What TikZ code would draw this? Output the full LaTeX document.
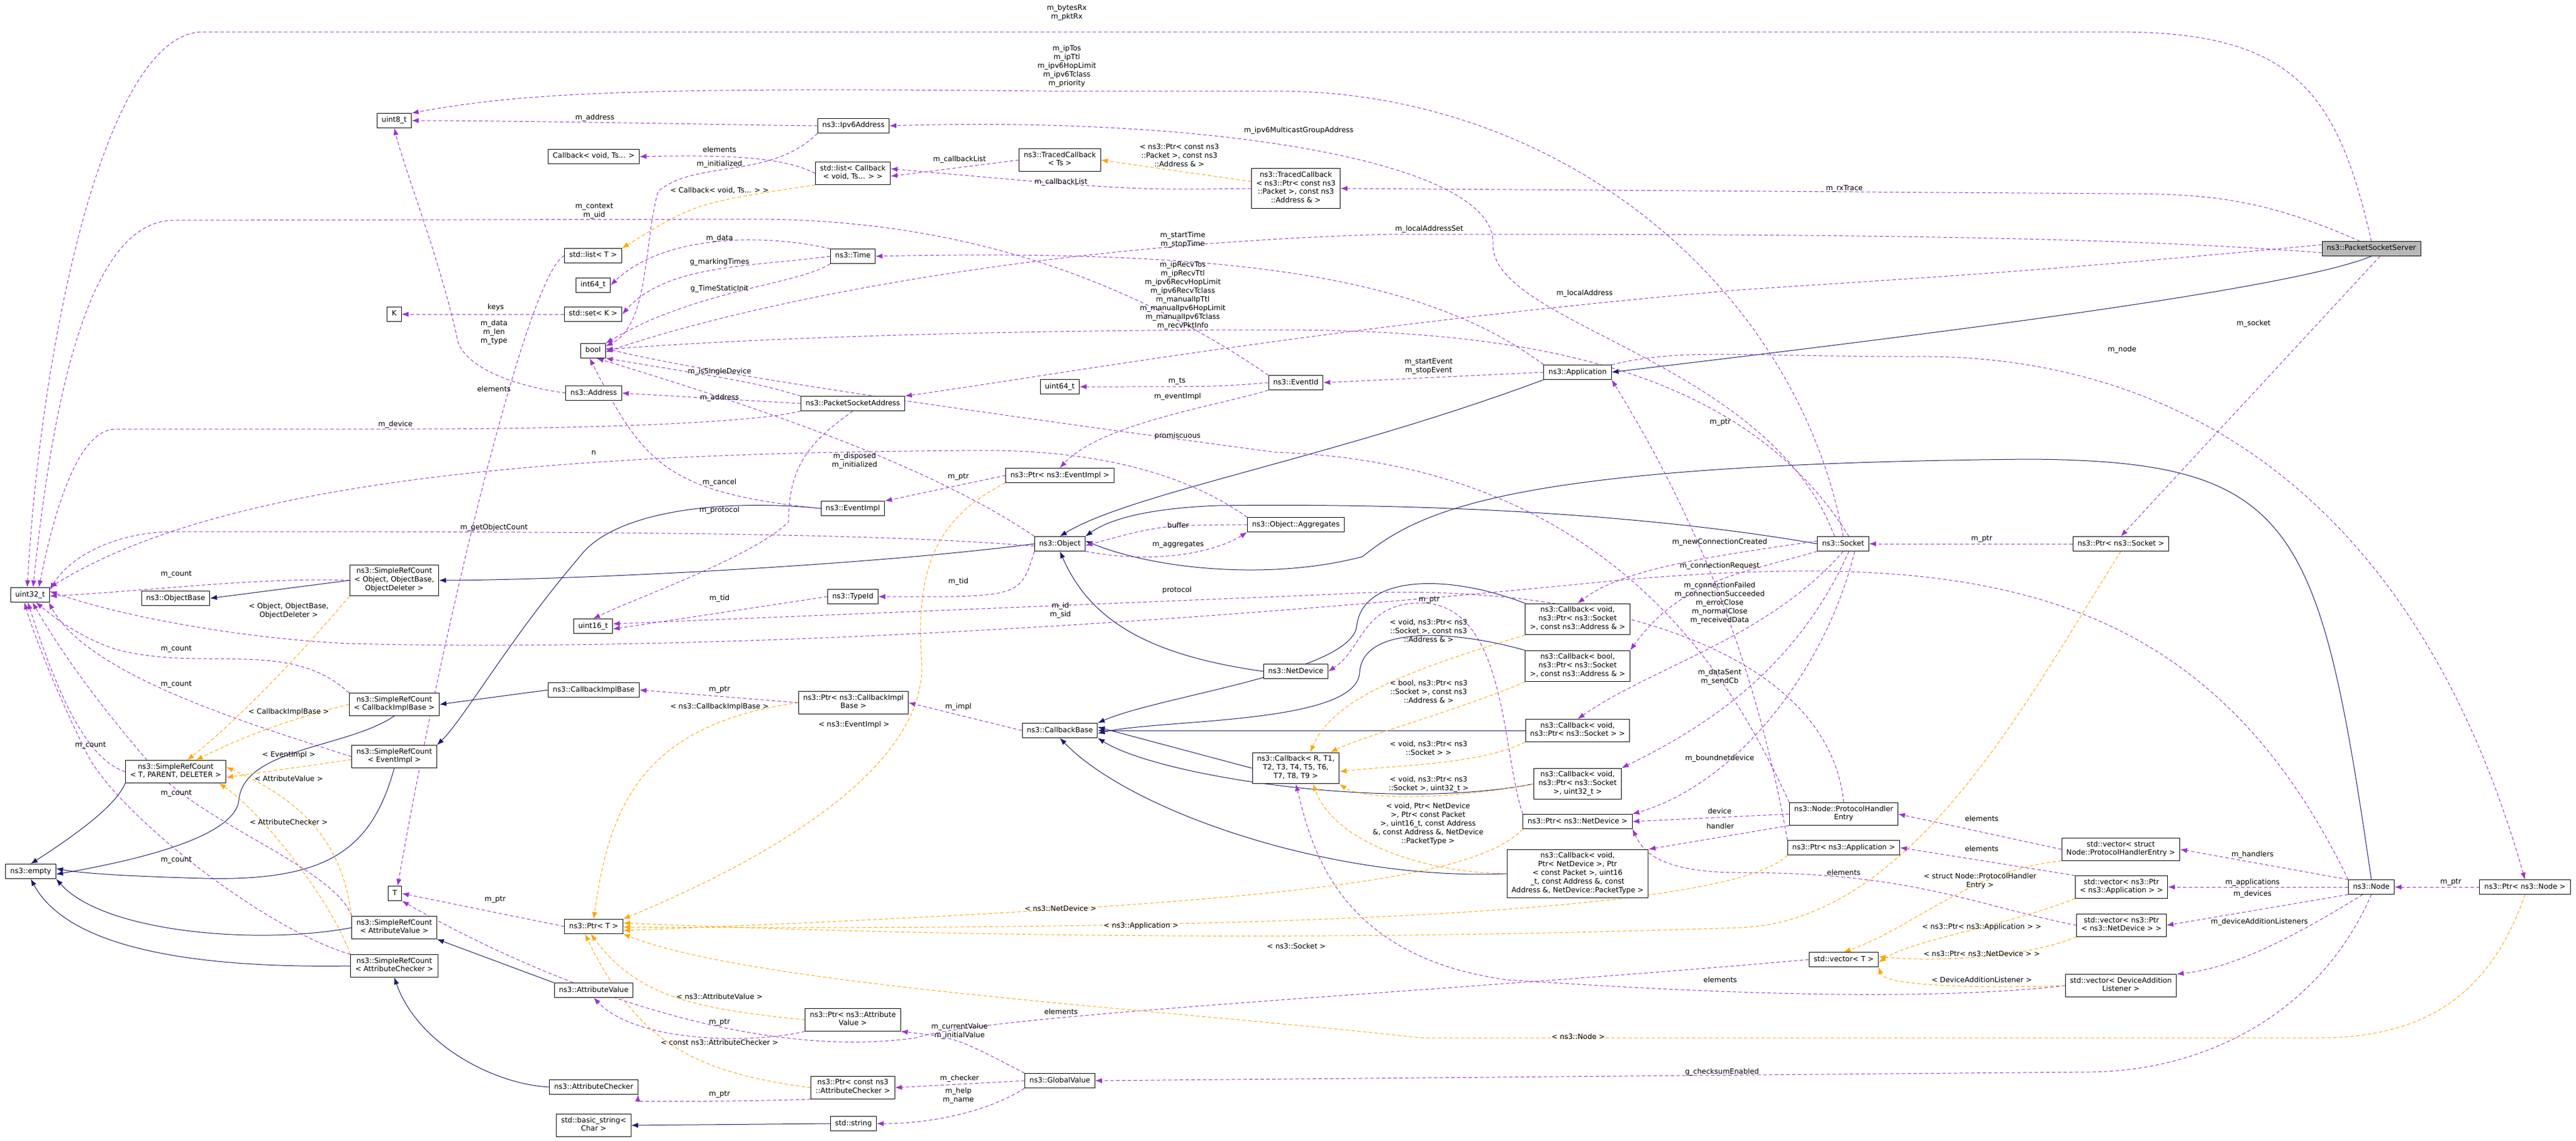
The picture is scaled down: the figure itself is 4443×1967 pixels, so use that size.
\documentclass[tikz,border=0pt]{standalone}
\usepackage{fontspec}
\usetikzlibrary{arrows.meta,backgrounds}
\newfontfamily\dvfont{DejaVu Sans}
\newcommand\lblf{\dvfont\fontsize{12.5}{15}\selectfont}
\definecolor{usec}{RGB}{154,50,205}
\definecolor{tplc}{RGB}{255,165,0}
\definecolor{inhc}{RGB}{25,25,112}
\tikzset{
 box/.style={draw=black, fill=white, line width=1, font=\lblf, align=center, inner xsep=8, inner ysep=5, execute at begin node=\strut, execute at end node=\strut},
 two/.style={}, three/.style={}, four/.style={}, five/.style={},
 lab/.style={font=\lblf, align=center, inner sep=0},
 use/.style={draw=usec, line width=1, dash pattern=on 6 off 4, -{Latex[length=12,width=9]}},
 tpl/.style={draw=tplc, line width=1, dash pattern=on 6 off 4, -{Latex[length=12,width=9]}},
 inh/.style={draw=inhc, line width=1, -{Latex[length=12,width=9]}}
}
\begin{document}
\begin{tikzpicture}[x=1bp,y=-1bp]
\useasboundingbox (0,0) rectangle (4443,1967);
% nodes
\node[box, fill=black!28] (psserver) at (4090,429) {ns3::PacketSocketServer};
\node[box] (app) at (2721,642) {ns3::Application};
\node[box] (object) at (1828,938) {ns3::Object};
\node[box] (objbase) at (303,1032) {ns3::ObjectBase};
\node[box,three] (srcobj) at (680,1001) {ns3::SimpleRefCount\\< Object, ObjectBase,\\ObjectDeleter >};
\node[box,two] (srct) at (303,1331) {ns3::SimpleRefCount\\< T, PARENT, DELETER >};
\node[box,two] (srccib) at (680,1215) {ns3::SimpleRefCount\\< CallbackImplBase >};
\node[box,two] (srcev) at (680,1305) {ns3::SimpleRefCount\\< EventImpl >};
\node[box,two] (srcav) at (680,1600) {ns3::SimpleRefCount\\< AttributeValue >};
\node[box,two] (srcac) at (680,1666) {ns3::SimpleRefCount\\< AttributeChecker >};
\node[box] (empty) at (53,1503) {ns3::empty};
\node[box] (u8) at (680,208) {uint8\_t};
\node[box] (u16) at (1023,1080) {uint16\_t};
\node[box] (u32) at (52,1026) {uint32\_t};
\node[box] (u64) at (1828,667) {uint64\_t};
\node[box] (i64) at (1023,492) {int64\_t};
\node[box] (boolb) at (1023,605) {bool};
\node[box] (K) at (680,542) {K};
\node[box] (setK) at (1023,542) {std::set< K >};
\node[box] (listT) at (1023,441) {std::list< T >};
\node[box] (cbvoidts) at (1024,270) {Callback< void, Ts... >};
\node[box,two] (listcb) at (1471,299) {std::list< Callback\\< void, Ts... > >};
\node[box,two] (tcts) at (1828,276) {ns3::TracedCallback\\< Ts >};
\node[box,four] (tcpkt) at (2235,325) {ns3::TracedCallback\\< ns3::Ptr< const ns3\\::Packet >, const ns3\\::Address \& >};
\node[box] (ipv6) at (1472,217) {ns3::Ipv6Address};
\node[box] (time) at (1471,442) {ns3::Time};
\node[box] (addr) at (1024,678) {ns3::Address};
\node[box] (psa) at (1471,696) {ns3::PacketSocketAddress};
\node[box] (evid) at (2235,660) {ns3::EventId};
\node[box] (evimpl) at (1471,877) {ns3::EventImpl};
\node[box] (ptrev) at (1828,820) {ns3::Ptr< ns3::EventImpl >};
\node[box] (typeid) at (1471,1029) {ns3::TypeId};
\node[box] (aggr) at (2235,905) {ns3::Object::Aggregates};
\node[box] (socket) at (3179,938) {ns3::Socket};
\node[box] (netdev) at (2235,1158) {ns3::NetDevice};
\node[box,three] (cbaddr) at (2721,1068) {ns3::Callback< void,\\ns3::Ptr< ns3::Socket\\>, const ns3::Address \& >};
\node[box,three] (cbbool) at (2721,1149) {ns3::Callback< bool,\\ns3::Ptr< ns3::Socket\\>, const ns3::Address \& >};
\node[box,two] (cbsock) at (2721,1260) {ns3::Callback< void,\\ns3::Ptr< ns3::Socket > >};
\node[box,three] (cbr) at (2235,1325) {ns3::Callback< R, T1,\\T2, T3, T4, T5, T6,\\T7, T8, T9 >};
\node[box,three] (cbu32) at (2721,1352) {ns3::Callback< void,\\ns3::Ptr< ns3::Socket\\>, uint32\_t >};
\node[box] (ptrnd) at (2721,1417) {ns3::Ptr< ns3::NetDevice >};
\node[box,five] (cbnd) at (2721,1507) {ns3::Callback< void,\\Ptr< NetDevice >, Ptr\\< const Packet >, uint16\\\_t, const Address \&, const\\Address \&, NetDevice::PacketType >};
\node[box,two] (phe) at (3180,1404) {ns3::Node::ProtocolHandler\\Entry};
\node[box] (ptrapp) at (3180,1462) {ns3::Ptr< ns3::Application >};
\node[box] (vecT) at (3180,1655) {std::vector< T >};
\node[box] (ptrsock) at (3658,938) {ns3::Ptr< ns3::Socket >};
\node[box,two] (vphe) at (3658,1465) {std::vector< struct\\Node::ProtocolHandlerEntry >};
\node[box,two] (vapp) at (3659,1530) {std::vector< ns3::Ptr\\< ns3::Application > >};
\node[box,two] (vnd) at (3659,1596) {std::vector< ns3::Ptr\\< ns3::NetDevice > >};
\node[box,two] (vdal) at (3658,1700) {std::vector< DeviceAddition\\Listener >};
\node[box] (node) at (4090,1530) {ns3::Node};
\node[box] (ptrnode) at (4355,1530) {ns3::Ptr< ns3::Node >};
\node[box] (cbase) at (1828,1260) {ns3::CallbackBase};
\node[box,two] (ptrcib) at (1472,1212) {ns3::Ptr< ns3::CallbackImpl\\Base >};
\node[box] (cib) at (1024,1190) {ns3::CallbackImplBase};
\node[box] (T) at (681,1541) {T};
\node[box] (ptrT) at (1024,1598) {ns3::Ptr< T >};
\node[box] (av) at (1024,1708) {ns3::AttributeValue};
\node[box] (ac) at (1024,1875) {ns3::AttributeChecker};
\node[box,two] (ptrav) at (1471,1759) {ns3::Ptr< ns3::Attribute\\Value >};
\node[box] (gv) at (1828,1864) {ns3::GlobalValue};
\node[box,two] (ptrac) at (1471,1876) {ns3::Ptr< const ns3\\::AttributeChecker >};
\node[box] (stdstr) at (1472,1938) {std::string};
\node[box,two] (bstr) at (1024,1941) {std::basic\_string<\\Char >};

\begin{scope}[on background layer]
\fill[white] (0,0) rectangle (4443,1967);
% ---------- inheritance
\draw[inh] (psserver.south) .. controls (3950,500) and (3300,580) .. (app.east);
\draw[inh] (app.south west) .. controls (2300,790) and (1950,850) .. (object.north);
\draw[inh] (socket.west) .. controls (2800,880) and (2400,868) .. (2100,872) .. controls (1950,878) and (1900,905) .. (object.north east);
\draw[inh] (node.north) .. controls (4000,900) and (3960,795) .. (3500,792) .. controls (2600,800) and (2450,880) .. (2350,960) .. controls (2200,1000) and (2000,985) .. ([yshift=5]object.east);
\draw[inh] (netdev.west) .. controls (1980,1130) and (1880,1070) .. (object.south);
\draw[inh] (object.west) .. controls (1500,975) and (1000,1000) .. (srcobj.east);
\draw[inh] (srcobj.west) -- (objbase.east);
\draw[inh] (cib.west) -- (srccib.east);
\draw[inh] (srccib.south) .. controls (600,1290) and (420,1290) .. (412,1380) .. controls (405,1450) and (200,1490) .. ([yshift=-5]empty.east);
\draw[inh] (evimpl.west) .. controls (1250,860) and (1060,880) .. (1000,960) .. controls (880,1100) and (800,1240) .. (srcev.north east);
\draw[inh] (srcev.south) .. controls (640,1470) and (560,1520) .. (350,1515) .. controls (250,1512) and (150,1508) .. ([yshift=5]empty.east);
\draw[inh] (srct.south west) .. controls (200,1390) and (130,1440) .. (empty.north);
\draw[inh] (srcav.west) .. controls (450,1630) and (180,1610) .. (empty.south east);
\draw[inh] (srcac.west) .. controls (350,1670) and (120,1640) .. (empty.south);
\draw[inh] (av.north west) -- (srcav.south east);
\draw[inh] (ac.west) .. controls (850,1870) and (720,1800) .. (srcac.south);
\draw[inh] (stdstr.west) -- (bstr.east);
\draw[inh] (cbaddr.north west) .. controls (2500,990) and (2350,990) .. (2340,1080) .. controls (2330,1160) and (2000,1200) .. (cbase.north east);
\draw[inh] (cbbool.north west) .. controls (2500,1085) and (2350,1080) .. (2345,1160) .. controls (2340,1250) and (2000,1240) .. ([yshift=-5]cbase.east);
\draw[inh] (cbsock.west) -- (cbase.east);
\draw[inh] (cbr.west) -- ([yshift=6]cbase.east);
\draw[inh] (cbu32.west) .. controls (2400,1400) and (2000,1340) .. (cbase.south east);
\draw[inh] (cbnd.west) .. controls (2300,1520) and (1950,1400) .. (cbase.south);

% ---------- usage
\draw[use] (psserver.north) .. controls (4030,150) and (3950,55) .. (3650,55) -- (350,55) .. controls (180,55) and (70,600) .. ([xshift=-5]u32.north);
\draw[use] (socket.north) .. controls (3100,500) and (2700,157) .. (2200,157) -- (1800,157) .. controls (1100,150) and (900,160) .. (u8.north east);
\draw[use] (ipv6.west) .. controls (1300,216) and (900,208) .. (u8.east);
\draw[use] ([xshift=-15]socket.north) .. controls (3050,620) and (2570,560) .. (2575,420) .. controls (2580,280) and (2100,200) .. (ipv6.east);
\draw[use] (listcb.west) .. controls (1350,270) and (1250,267) .. (cbvoidts.east);
\draw[use] (ipv6.south west) .. controls (1330,310) and (1200,275) .. (1135,330) .. controls (1110,420) and (1120,560) .. ([yshift=-5]boolb.north east);
\draw[use] (tcts.west) -- ([yshift=-5]listcb.east);
\draw[use] (tcpkt.west) .. controls (1950,328) .. ([yshift=8]listcb.east);
\draw[use] ([xshift=-20]psserver.north) .. controls (3900,340) and (3800,334) .. (3650,334) -- (tcpkt.east);
\draw[use] (evid.north west) .. controls (1900,450) and (1600,378) .. (1300,378) -- (300,380) .. controls (150,380) and (90,700) .. ([xshift=5]u32.north);
\draw[use] (time.north west) .. controls (1330,405) and (1150,400) .. (i64.east);
\draw[use] (time.west) .. controls (1300,460) and (1150,455) .. (setK.east);
\draw[use] (time.south west) .. controls (1380,490) and (1200,500) .. (boolb.north east);
\draw[use] (setK.west) -- (K.east);
\draw[use] (addr.west) .. controls (850,660) and (800,620) .. (790,590) .. controls (760,450) and (700,300) .. (u8.south);
\draw[use] (listT.west) .. controls (910,470) and (760,1100) .. ([xshift=5]T.north);
\draw[use] (app.north west) .. controls (2450,470) and (2100,430) .. (time.east);
\draw[use] ([yshift=-7]psserver.west) .. controls (3600,404) and (3000,404) .. (2400,404) .. controls (1800,420) and (1300,520) .. ([yshift=-2]boolb.east);
\draw[use] ([xshift=10]socket.north) .. controls (3000,620) and (2600,569) .. (2200,569) .. controls (1600,569) and (1200,590) .. ([yshift=2]boolb.east);
\draw[use] ([yshift=7]psserver.west) .. controls (3500,470) and (3300,480) .. (3000,500) .. controls (2300,560) and (1800,650) .. (psa.north east);
\draw[use] (evid.west) .. controls (2100,667) .. (u64.east);
\draw[use] (evid.south west) .. controls (2100,700) and (1900,730) .. (ptrev.north);
\draw[use] (app.west) -- (evid.east);
\draw[use] (psa.west) -- (addr.east);
\draw[use] (psa.north west) .. controls (1300,660) .. (boolb.south east);
\draw[use] (psa.south west) .. controls (1300,730) and (1000,740) .. (700,740) -- (200,740) .. controls (130,740) and (90,900) .. ([xshift=15]u32.north);
\draw[use] (psa.south) .. controls (1400,760) and (1360,800) .. (1360,900) .. controls (1300,960) and (1100,1030) .. (u16.north);
\draw[use] (aggr.north west) .. controls (2050,820) and (1900,777) .. (1700,777) .. controls (1000,780) and (400,820) .. (u32.north east);
\draw[use] (object.north west) .. controls (1600,800) and (1300,700) .. ([xshift=6]boolb.south);
\draw[use] (evimpl.west) .. controls (1150,850) and (1110,800) .. ([xshift=-6]boolb.south);
\draw[use] (ptrev.west) -- (evimpl.north east);
\draw[use] ([yshift=-4]object.west) .. controls (1500,918) and (1000,917) .. (300,917) .. controls (200,917) and (120,960) .. ([yshift=-4]u32.north east);
\draw[use] (aggr.west) .. controls (2000,906) .. ([yshift=-3]object.east);
\draw[use] (object.south east) .. controls (2000,975) and (2100,950) .. (aggr.south west);
\draw[use] (object.south west) .. controls (1760,1030) .. (typeid.east);
\draw[use] (typeid.west) -- ([yshift=-5]u16.east);
\draw[use] (phe.north) .. controls (3150,1100) and (2700,1000) .. (2300,1025) -- ([yshift=4]u16.east);
\draw[use] (node.north west) .. controls (3800,1000) and (3400,950) .. (2800,1000) .. controls (2000,1080) and (1200,1125) .. (600,1110) .. controls (400,1100) and (200,1060) .. ([yshift=6]u32.east);
\draw[use] (srcobj.west) .. controls (450,995) and (250,1020) .. ([yshift=-2]u32.east);
\draw[use] (srccib.north west) .. controls (500,1100) and (350,1160) .. (200,1120) .. controls (140,1100) and (100,1070) .. ([xshift=10]u32.south);
\draw[use] (srcev.west) .. controls (400,1240) and (150,1160) .. ([xshift=-2]u32.south east);
\draw[use] (srct.west) .. controls (150,1310) and (100,1200) .. ([xshift=-4]u32.south);
\draw[use] (srcav.north west) .. controls (580,1500) and (350,1420) .. (270,1330) .. controls (200,1250) and (120,1150) .. ([xshift=4]u32.south);
\draw[use] (srcac.north west) .. controls (450,1600) and (200,1400) .. (150,1300) .. controls (100,1200) and (60,1100) .. ([xshift=-10]u32.south);
\draw[use] (ptrcib.west) -- (cib.east);
\draw[use] (cbase.west) -- (ptrcib.east);
\draw[use] (ptrT.west) -- (T.east);
\draw[use] (ptrav.south west) .. controls (1300,1800) and (1100,1800) .. (av.south);
\draw[use] (ptrac.south west) .. controls (1300,1900) and (1100,1900) .. (ac.south east);
\draw[use] (gv.north west) .. controls (1650,1790) .. (ptrav.south east);
\draw[use] (gv.west) -- (ptrac.east);
\draw[use] (gv.south west) .. controls (1700,1920) and (1600,1938) .. (stdstr.east);
\draw[use] (node.south) .. controls (4000,1750) and (3800,1849) .. (3600,1849) -- (gv.east);
\draw[use] (vecT.west) .. controls (2500,1710) and (1700,1750) .. (1580,1790) .. controls (1300,1830) and (950,1700) .. (T.south east);
\draw[use] (vdal.west) .. controls (3300,1730) and (2900,1710) .. (2600,1690) .. controls (2300,1650) and (2260,1450) .. (cbr.south);
\draw[use] (vnd.west) .. controls (3400,1560) and (3300,1505) .. (3000,1505) .. controls (2850,1505) and (2830,1460) .. (ptrnd.south east);
\draw[use] (vphe.west) -- (phe.east);
\draw[use] (vapp.north west) -- (ptrapp.east);
\draw[use] (node.north west) -- (vphe.east);
\draw[use] (node.west) -- (vapp.east);
\draw[use] (node.south west) -- (vnd.east);
\draw[use] ([xshift=-15]node.south) .. controls (3950,1620) and (3850,1670) .. (vdal.north east);
\draw[use] (ptrnode.west) -- (node.east);
\draw[use] (app.north east) .. controls (2900,600) and (3000,615) .. (3300,615) .. controls (3700,610) and (4150,800) .. (ptrnode.north);
\draw[use] ([xshift=15]psserver.south) -- (ptrsock.north);
\draw[use] (ptrsock.west) -- (socket.east);
\draw[use] ([yshift=5]socket.west) .. controls (2950,960) and (2800,980) .. (cbaddr.north);
\draw[use] (socket.south west) .. controls (3000,990) and (2900,1000) .. (cbbool.north east);
\draw[use] (socket.south) .. controls (3050,1100) and (2850,1150) .. (cbsock.north);
\draw[use] ([xshift=10]socket.south) .. controls (3100,1150) and (2950,1250) .. (cbu32.north east);
\draw[use] ([xshift=20]socket.south) .. controls (3150,1150) and (3000,1350) .. (ptrnd.north east);
\draw[use] (phe.west) -- (ptrnd.east);
\draw[use] (phe.south west) -- (cbnd.north east);
\draw[use] (ptrnd.north west) .. controls (2590,1300) and (2600,1040) .. (2450,1040) .. controls (2350,1040) and (2350,1120) .. (netdev.east);
\draw[use] (ptrapp.north west) .. controls (3020,1100) and (2900,850) .. (app.south east);
\draw[use] (phe.north west) .. controls (3000,1200) and (2800,800) .. (2200,780) .. controls (1600,700) and (1200,640) .. ([yshift=4]boolb.east);

% ---------- template
\draw[tpl] (listcb.south west) .. controls (1200,350) .. (listT.north east);
\draw[tpl] ([yshift=12]tcpkt.west) -- (tcts.east);
\draw[tpl] (srcobj.south west) .. controls (500,1150) and (400,1250) .. ([xshift=20]srct.north);
\draw[tpl] (srccib.west) .. controls (500,1240) and (420,1270) .. ([xshift=35]srct.north);
\draw[tpl] ([yshift=-5]srcev.west) -- ([yshift=-10]srct.east);
\draw[tpl] (srcav.north west) .. controls (590,1450) and (520,1380) .. ([yshift=8]srct.east);
\draw[tpl] (srcac.north west) .. controls (570,1550) and (450,1400) .. ([xshift=75]srct.south);
\draw[tpl] (ptrcib.west) .. controls (1100,1250) and (1050,1400) .. (ptrT.north);
\draw[tpl] (ptrev.south west) .. controls (1600,900) and (1580,1000) .. (1590,1150) .. controls (1590,1300) and (1400,1450) .. (ptrT.north east);
\draw[tpl] (ptrnd.south west) .. controls (2540,1520) and (2200,1560) .. ([yshift=-7]ptrT.east);
\draw[tpl] (ptrapp.south west) .. controls (3000,1560) and (2400,1607) .. ([yshift=-1]ptrT.east);
\draw[tpl] (ptrsock.south) .. controls (3500,1200) and (3300,1590) .. (3000,1600) .. controls (2700,1610) and (2000,1630) .. ([yshift=6]ptrT.east);
\draw[tpl] (ptrnode.south) .. controls (4300,1700) and (4200,1790) .. (4000,1790) -- (2450,1790) .. controls (2000,1740) and (1300,1700) .. (ptrT.south east);
\draw[tpl] (ptrav.west) .. controls (1200,1740) and (1100,1720) .. ([xshift=-5]ptrT.south);
\draw[tpl] (ptrac.west) .. controls (1200,1850) and (1100,1800) .. ([xshift=-15]ptrT.south);
\draw[tpl] (cbaddr.south west) .. controls (2450,1150) and (2300,1200) .. ([xshift=25]cbr.north);
\draw[tpl] (cbbool.south west) .. controls (2500,1230) and (2350,1270) .. ([xshift=60]cbr.north);
\draw[tpl] (cbsock.south west) .. controls (2550,1320) and (2400,1320) .. ([yshift=-6]cbr.east);
\draw[tpl] (cbu32.west) .. controls (2500,1380) and (2350,1380) .. (cbr.south east);
\draw[tpl] (cbnd.west) .. controls (2450,1505) and (2300,1450) .. ([xshift=30]cbr.south);
\draw[tpl] (vphe.south west) .. controls (3400,1500) and (3300,1600) .. (vecT.north);
\draw[tpl] (vapp.south west) .. controls (3450,1600) and (3300,1620) .. ([yshift=-5]vecT.east);
\draw[tpl] (vnd.south west) .. controls (3500,1650) and (3350,1660) .. ([yshift=5]vecT.east);
\draw[tpl] (vdal.west) .. controls (3400,1705) and (3250,1700) .. (vecT.south east);
\end{scope}

% ---------- labels
\node[lab] (l1) at (1840,22) {m\_bytesRx\\m\_pktRx};
\node[lab] (l2) at (1840,114) {m\_ipTos\\m\_ipTtl\\m\_ipv6HopLimit\\m\_ipv6Tclass\\m\_priority};
\node[lab] (l3) at (1026,203) {m\_address};
\node[lab] (l4) at (2240,225) {m\_ipv6MulticastGroupAddress};
\node[lab] (l5) at (1241,258) {elements};
\node[lab] (l6) at (1241,283) {m\_initialized};
\node[lab] (l7) at (1241,328) {< Callback< void, Ts... > >};
\node[lab] (l8) at (1655,275) {m\_callbackList};
\node[lab] (l9) at (1830,314) {m\_callbackList};
\node[lab] (l10) at (2034,268) {< ns3::Ptr< const ns3\\::Packet >, const ns3\\::Address \& >};
\node[lab] (l11) at (3181,325) {m\_rxTrace};
\node[lab] (l12) at (1025,364) {m\_context\\m\_uid};
\node[lab] (l13) at (1241,411) {m\_data};
\node[lab] (l14) at (1241,452) {g\_markingTimes};
\node[lab] (l15) at (1241,498) {g\_TimeStaticInit};
\node[lab] (l16) at (855,530) {keys};
\node[lab] (l17) at (852,573) {m\_data\\m\_len\\m\_type};
\node[lab] (l18) at (852,671) {elements};
\node[lab] (l19) at (2040,414) {m\_startTime\\m\_stopTime};
\node[lab] (l20) at (2465,395) {m\_localAddressSet};
\node[lab] (l21) at (2040,510) {m\_ipRecvTos\\m\_ipRecvTtl\\m\_ipv6RecvHopLimit\\m\_ipv6RecvTclass\\m\_manualIpTtl\\m\_manualIpv6HopLimit\\m\_manualIpv6Tclass\\m\_recvPktInfo};
\node[lab] (l22) at (2733,506) {m\_localAddress};
\node[lab] (l23) at (2030,658) {m\_ts};
\node[lab] (l24) at (2031,684) {m\_eventImpl};
\node[lab] (l25) at (2464,632) {m\_startEvent\\m\_stopEvent};
\node[lab] (l26) at (1241,686) {m\_address};
\node[lab] (l27) at (1241,641) {m\_isSingleDevice};
\node[lab] (l28) at (682,732) {m\_device};
\node[lab] (l29) at (1241,880) {m\_protocol};
\node[lab] (l30) at (1024,781) {n};
\node[lab] (l31) at (1474,795) {m\_disposed\\m\_initialized};
\node[lab] (l32) at (1241,832) {m\_cancel};
\node[lab] (l33) at (1653,823) {m\_ptr};
\node[lab] (l34) at (852,910) {m\_getObjectCount};
\node[lab] (l35) at (2032,906) {buffer};
\node[lab] (l36) at (2032,940) {m\_aggregates};
\node[lab] (l37) at (1653,1003) {m\_tid};
\node[lab] (l38) at (1241,1032) {m\_tid};
\node[lab] (l39) at (2030,1018) {protocol};
\node[lab] (l40) at (1829,1053) {m\_id\\m\_sid};
\node[lab] (l41) at (498,1054) {< Object, ObjectBase,\\ObjectDeleter >};
\node[lab] (l42) at (304,991) {m\_count};
\node[lab] (l43) at (304,1120) {m\_count};
\node[lab] (l44) at (304,1181) {m\_count};
\node[lab] (l45) at (156,1286) {m\_count};
\node[lab] (l46) at (304,1369) {m\_count};
\node[lab] (l47) at (304,1484) {m\_count};
\node[lab] (l48) at (498,1228) {< CallbackImplBase >};
\node[lab] (l49) at (498,1302) {< EventImpl >};
\node[lab] (l50) at (498,1343) {< AttributeValue >};
\node[lab] (l51) at (498,1418) {< AttributeChecker >};
\node[lab] (l52) at (1241,1190) {m\_ptr};
\node[lab] (l53) at (1241,1219) {< ns3::CallbackImplBase >};
\node[lab] (l54) at (1653,1219) {m\_impl};
\node[lab] (l55) at (1473,1250) {< ns3::EventImpl >};
\node[lab] (l56) at (854,1552) {m\_ptr};
\node[lab] (l57) at (1241,1719) {< ns3::AttributeValue >};
\node[lab] (l58) at (1241,1764) {m\_ptr};
\node[lab] (l59) at (1241,1798) {< const ns3::AttributeChecker >};
\node[lab] (l60) at (1241,1888) {m\_ptr};
\node[lab] (l61) at (1655,1779) {m\_currentValue\\m\_initialValue};
\node[lab] (l62) at (1655,1860) {m\_checker};
\node[lab] (l63) at (1653,1890) {m\_help\\m\_name};
\node[lab] (l64) at (1830,1745) {elements};
\node[lab] (l65) at (1829,1567) {< ns3::NetDevice >};
\node[lab] (l66) at (1968,1597) {< ns3::Application >};
\node[lab] (l67) at (2236,1632) {< ns3::Socket >};
\node[lab] (l68) at (2722,1788) {< ns3::Node >};
\node[lab] (l69) at (2970,1849) {g\_checksumEnabled};
\node[lab] (l70) at (2967,1690) {elements};
\node[lab] (l71) at (2464,1088) {< void, ns3::Ptr< ns3\\::Socket >, const ns3\\::Address \& >};
\node[lab] (l72) at (2464,1193) {< bool, ns3::Ptr< ns3\\::Socket >, const ns3\\::Address \& >};
\node[lab] (l73) at (2464,1290) {< void, ns3::Ptr< ns3\\::Socket > >};
\node[lab] (l74) at (2464,1353) {< void, ns3::Ptr< ns3\\::Socket >, uint32\_t >};
\node[lab] (l75) at (2463,1421) {< void, Ptr< NetDevice\\>, Ptr< const Packet\\>, uint16\_t, const Address\\\&, const Address \&, NetDevice\\::PacketType >};
\node[lab] (l76) at (2465,1035) {m\_ptr};
\node[lab] (l77) at (2966,935) {m\_newConnectionCreated};
\node[lab] (l78) at (2966,976) {m\_connectionRequest};
\node[lab] (l79) at (2966,1040) {m\_connectionFailed\\m\_connectionSucceeded\\m\_errorClose\\m\_normalClose\\m\_receivedData};
\node[lab] (l80) at (2966,1168) {m\_dataSent\\m\_sendCb};
\node[lab] (l81) at (2966,1308) {m\_boundnetdevice};
\node[lab] (l82) at (2966,1399) {device};
\node[lab] (l83) at (2967,1425) {handler};
\node[lab] (l84) at (3180,1505) {elements};
\node[lab] (l85) at (2967,729) {m\_ptr};
\node[lab] (l86) at (2031,752) {promiscuous};
\node[lab] (l87) at (3660,603) {m\_node};
\node[lab] (l88) at (3887,558) {m\_socket};
\node[lab] (l89) at (3418,930) {m\_ptr};
\node[lab] (l90) at (3418,1412) {elements};
\node[lab] (l91) at (3418,1464) {elements};
\node[lab] (l92) at (3415,1520) {< struct Node::ProtocolHandler\\Entry >};
\node[lab] (l93) at (3418,1599) {< ns3::Ptr< ns3::Application > >};
\node[lab] (l94) at (3418,1645) {< ns3::Ptr< ns3::NetDevice > >};
\node[lab] (l95) at (3418,1690) {< DeviceAdditionListener >};
\node[lab] (l96) at (3885,1474) {m\_handlers};
\node[lab] (l97) at (3885,1522) {m\_applications};
\node[lab] (l98) at (3885,1542) {m\_devices};
\node[lab] (l99) at (3897,1590) {m\_deviceAdditionListeners};
\node[lab] (l100) at (4227,1522) {m\_ptr};
\end{tikzpicture}
\end{document}
